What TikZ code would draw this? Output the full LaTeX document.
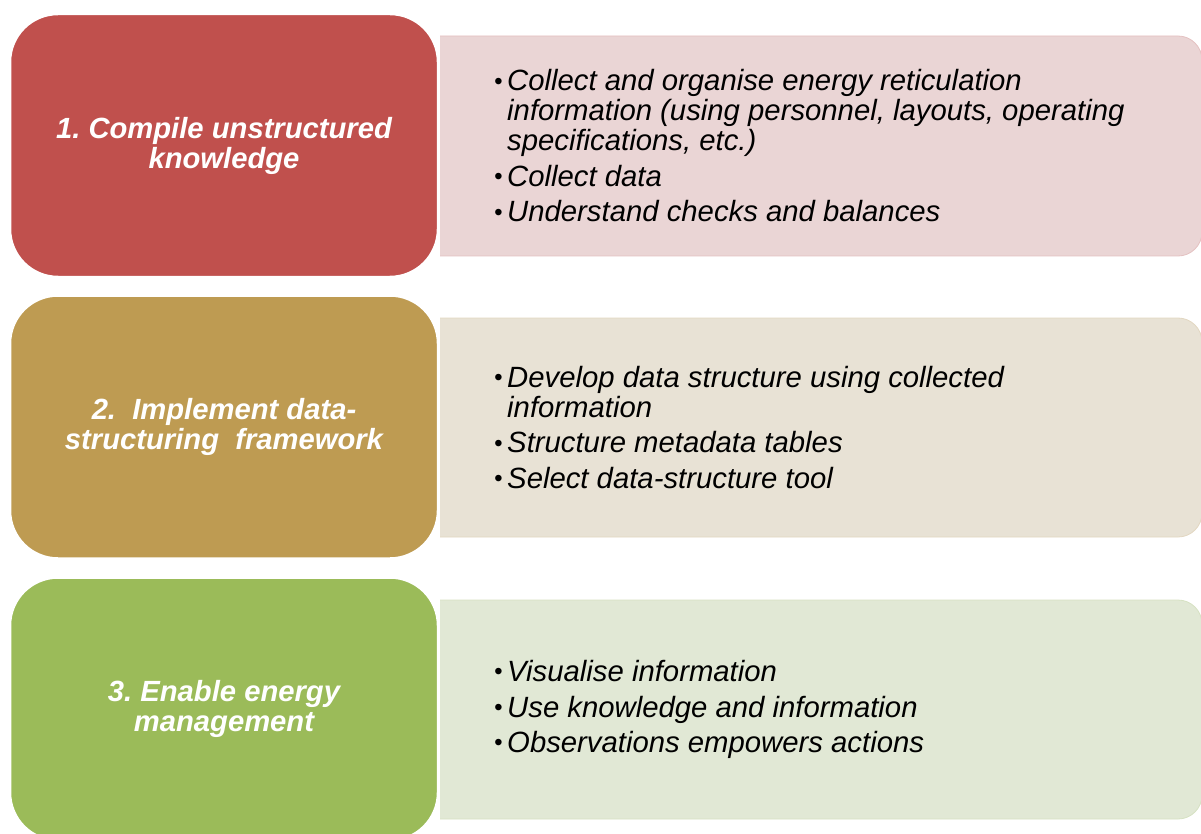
\documentclass[tikz,border=0pt]{standalone}
\usepackage{fontspec}
\setmainfont{Liberation Sans}
\frenchspacing
\definecolor{redstep}{RGB}{192, 80, 77}
\definecolor{tanstep}{RGB}{190, 155, 82}
\definecolor{greenstep}{RGB}{155, 187, 89}
\definecolor{redlight}{RGB}{234, 213, 213}
\definecolor{tanlight}{RGB}{232, 226, 213}
\definecolor{greenlight}{RGB}{225, 232, 213}
\newcommand{\pitem}[1]{\makebox[13pt][l]{\raisebox{1.6pt}{\fontsize{24}{24}\selectfont\textbullet}}#1}
\newcommand{\pcont}[1]{\hspace*{13pt}#1}

\begin{document}
\begin{tikzpicture}[x=1pt, y=1pt,
  stepbox/.style={rounded corners=48pt, draw=white, line width=2.5pt,
    minimum width=428pt, minimum height=263pt, text=white, align=center,
    font=\fontsize{29.2}{30}\selectfont\bfseries\itshape},
  listbox/.style={line width=0.8pt},
  listtext/.style={anchor=west, align=left, inner sep=0pt,
    font=\fontsize{29.3}{30}\selectfont\itshape}]

  \clip (0, 0) rectangle (1201, -834);

  % row 1
  \filldraw [listbox, fill=redlight, draw=redlight!85!redstep]
    (440, -36) [rounded corners=24pt] -- (1202, -36) -- (1202, -256)
    [sharp corners] -- (440, -256);
  \node [stepbox, fill=redstep] (step1) at (224, -145.5)
    {1. Compile unstructured\\knowledge};
  \node [listtext] (text1) at (494, -146)
    {\pitem{Collect and organise energy reticulation}\\
     \pcont{information (using personnel, layouts, operating}\\
     \pcont{specifications, etc.)}\\[5.5pt]
     \pitem{Collect data}\\[5.5pt]
     \pitem{Understand checks and balances}};

  % row 2
  \filldraw [listbox, fill=tanlight, draw=tanlight!85!tanstep]
    (440, -318) [rounded corners=24pt] -- (1202, -318) -- (1202, -537)
    [sharp corners] -- (440, -537);
  \node [stepbox, fill=tanstep] (step2) at (224, -427)
    {2.~ Implement data-\\structuring~ framework};
  \node [listtext] (text2) at (494, -427.5)
    {\pitem{Develop data structure using collected}\\
     \pcont{information}\\[5.5pt]
     \pitem{Structure metadata tables}\\[5.5pt]
     \pitem{Select data-structure tool}};

  % row 3
  \filldraw [listbox, fill=greenlight, draw=greenlight!85!greenstep]
    (440, -600) [rounded corners=24pt] -- (1202, -600) -- (1202, -819)
    [sharp corners] -- (440, -819);
  \node [stepbox, fill=greenstep] (step3) at (224, -709)
    {3. Enable energy\\management};
  \node [listtext] (text3) at (494, -709.5)
    {\pitem{Visualise information}\\[5.5pt]
     \pitem{Use knowledge and information}\\[5.5pt]
     \pitem{Observations empowers actions}};

\end{tikzpicture}
\end{document}
